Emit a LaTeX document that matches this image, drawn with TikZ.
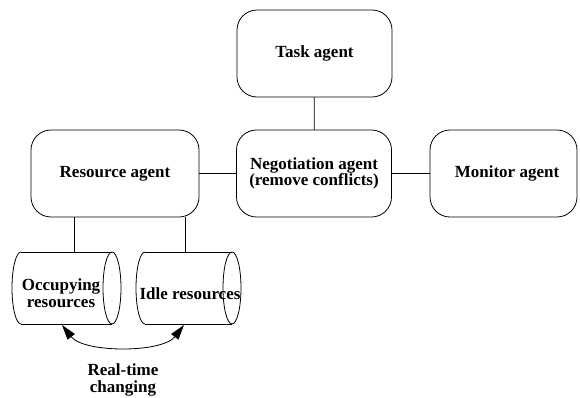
\documentclass[tikz,border=0pt]{standalone}
\usepackage{fontspec}
\setmainfont{Liberation Serif}
\usetikzlibrary{arrows.meta}
\begin{document}
\begin{tikzpicture}[x=1pt,y=-1pt,
  agent/.style={draw,line width=0.8pt,rounded corners=20pt,minimum width=155pt,minimum height=87pt,inner sep=0pt,outer sep=0pt,align=center,font=\fontsize{17}{16.5}\selectfont\bfseries},
  lbl/.style={align=center,font=\fontsize{17}{17.5}\selectfont\bfseries,inner sep=0pt},
  link/.style={line width=0.8pt},
  tip/.style={line width=0.8pt,{Triangle[length=15pt,width=9pt]}-{Triangle[length=15pt,width=9pt]}}]
\useasboundingbox (0,0) rectangle (580,397);
\node[agent] (task) at (314.5,53.5) {Task agent};
\node[agent] (neg) at (314,173.5) {Negotiation agent\\(remove conflicts)};
\node[agent,minimum width=147pt] (mon) at (503.5,173.5) {};
\node[lbl] (mont) at (507,173.5) {Monitor agent};
\node[agent,minimum width=168pt] (res) at (115,173.5) {Resource agent};
% cylinders
\draw[link] (21,252) -- (112,252) (21,324) -- (112,324);
\draw[link] (21,252) arc[start angle=90,end angle=270,x radius=9pt,y radius=36pt];
\draw[link] (112,288) ellipse[x radius=9pt,y radius=36pt];
\draw[link] (145,252) -- (232,252) (145,324) -- (232,324);
\draw[link] (145,252) arc[start angle=90,end angle=270,x radius=9pt,y radius=36pt];
\draw[link] (232,288) ellipse[x radius=9pt,y radius=36pt];
\node[lbl] (occt) at (61,293) {Occupying\\resources};
\node[lbl] (idlet) at (190,294) {Idle resources};
\node[lbl] (rt) at (123,380) {Real-time\\changing};
\draw[link] (task) -- (neg);
\draw[link] (res) -- (neg);
\draw[link] (neg) -- (mon);
\coordinate (r1) at (74,217);
\coordinate (r2) at (185,217);
\coordinate (o1) at (74,252);
\coordinate (i1) at (185,252);
\draw[link] (r1) -- (o1);
\draw[link] (r2) -- (i1);
\coordinate (oa) at (62,325);
\coordinate (ia) at (184,325);
\draw[tip] (oa) to[bend right=52,looseness=0.75] (ia);
\end{tikzpicture}
\end{document}
